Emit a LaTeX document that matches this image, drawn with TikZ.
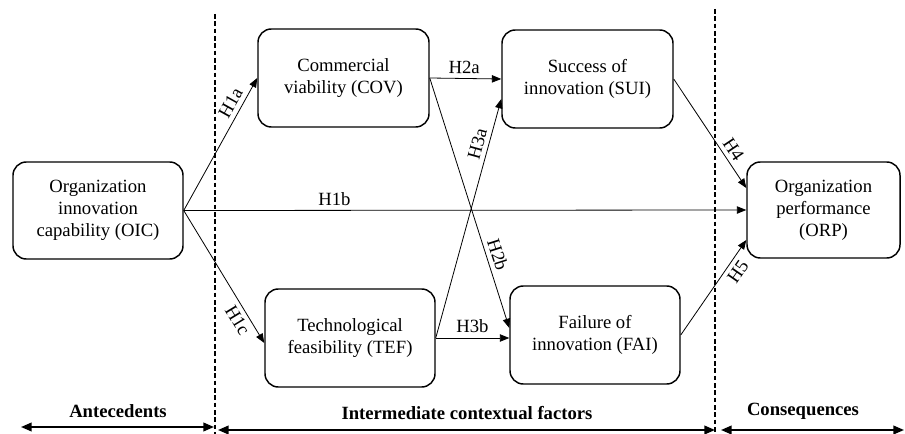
\documentclass[tikz,border=0pt]{standalone}
\usepackage{fontspec}
\setmainfont{Liberation Serif}
\usetikzlibrary{arrows.meta,calc}
\begin{document}
\begin{tikzpicture}[x=0.75pt,y=-0.75pt,
  box/.style={draw, line width=1.1pt, rounded corners=10pt, align=center,
    font=\fontsize{14}{16.5}\selectfont, inner sep=2pt},
  link/.style={line width=0.6pt, -{Triangle[length=7pt,width=5.5pt]}},
  lab/.style={font=\fontsize{14}{16.5}\selectfont, sloped},
  sep/.style={line width=0.9pt, dash pattern=on 3.5pt off 2pt},
  span/.style={line width=1.4pt, {Triangle[length=8pt,width=6.5pt]}-{Triangle[length=8pt,width=6.5pt]}},
  head/.style={font=\fontsize{14}{16.5}\selectfont\bfseries}]
\useasboundingbox (0,0) rectangle (905,434);
% separators
\draw[sep] (215,14) -- (215,434);
\draw[sep] (715,9) -- (715,434);
% boxes
\node[box, minimum width=127.5pt, minimum height=72.75pt] (OIC) at (98,210.5) {Organization\\innovation\\capability (OIC)};
\node[box, minimum width=128.25pt, minimum height=73.5pt] (COV) at (343.5,78) {Commercial\\viability (COV)};
\node[box, minimum width=128.25pt, minimum height=73.5pt] (SUI) at (587.5,79) {Success of\\innovation (SUI)};
\node[box, minimum width=127.5pt, minimum height=73.5pt] (TEF) at (350,338) {Technological\\feasibility (TEF)};
\node[box, minimum width=127.5pt, minimum height=73.5pt] (FAI) at (595,335) {Failure of\\innovation (FAI)};
\node[box, minimum width=114.75pt, minimum height=72pt] (ORP) at (823.5,210) {Organization\\performance\\(ORP)};
% connectors
\draw[link] (OIC.east) -- node[lab, pos=0.77, above] {H1a} (COV.west);
\draw[link] (OIC.east) -- node[lab, pos=0.268, above] {H1b} (ORP.west);
\draw[link] (OIC.east) -- node[lab, pos=0.786, below] {H1c} ($(TEF.west)+(0,5)$);
\draw[link] (COV.east) -- node[lab, pos=0.48, above] {H2a} (SUI.west);
\draw[link] (COV.east) -- node[lab, pos=0.72, above] {H2b} ($(FAI.west)+(0,-7)$);
\draw[link] (TEF.east) -- node[lab, pos=0.80, above] {H3a} ($(SUI.west)+(0,20)$);
\draw[link] (TEF.east) -- node[lab, pos=0.5, above] {H3b} (TEF.east -| FAI.west);
\draw[link] (SUI.east) -- node[lab, pos=0.70, above] {H4} ($(ORP.west)+(0,-22)$);
\draw[link] (FAI.east) -- node[lab, pos=0.735, below] {H5} ($(ORP.west)+(0,30)$);
% bottom spans
\coordinate (a1) at (21,427);
\coordinate (a2) at (214,427);
\coordinate (i1) at (218,430);
\coordinate (i2) at (715,430);
\coordinate (c1) at (721,430);
\coordinate (c2) at (904,430);
\draw[span] (a1) -- (a2);
\draw[span] (i1) -- (i2);
\draw[span] (c1) -- (c2);
\node[head] (tA) at (118,411) {Antecedents};
\node[head] (tI) at (467,413) {Intermediate contextual factors};
\node[head] (tC) at (803,411) {Consequences};
\end{tikzpicture}
\end{document}
